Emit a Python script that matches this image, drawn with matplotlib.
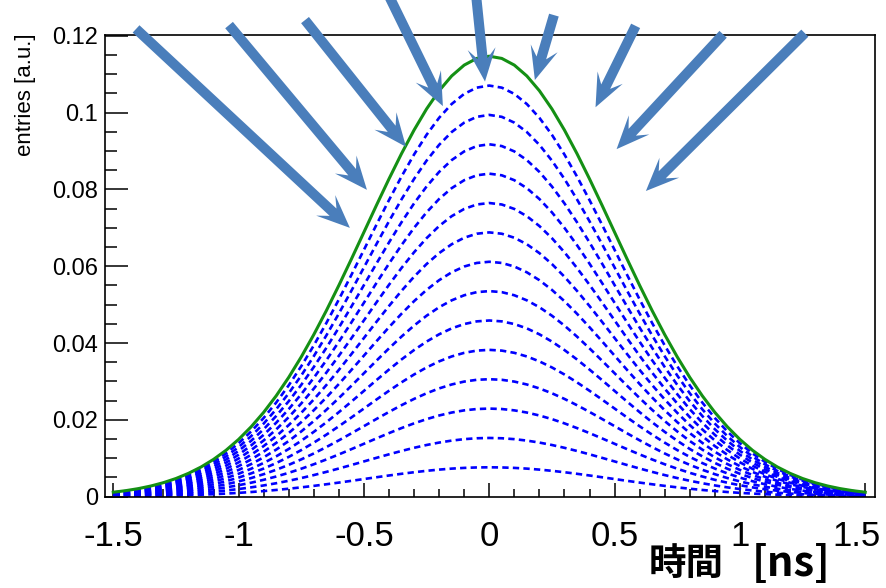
import numpy as np
import matplotlib.pyplot as plt
from matplotlib.patches import Polygon
from matplotlib.transforms import IdentityTransform, ScaledTranslation

# 緑のガウス曲線(全体)の値: t = -1.5 .. 1.5 を 0.05 刻みで読んだもの
t = np.linspace(-1.5, 1.5, 61)
half = [0.11470, 0.11412, 0.11238, 0.10955, 0.10571, 0.10097, 0.09546,
        0.08933, 0.08275, 0.07588, 0.06887, 0.06187, 0.05502, 0.04843,
        0.04220, 0.03640, 0.03107, 0.02626, 0.02196, 0.01819, 0.01491,
        0.01209, 0.00971, 0.00772, 0.00608, 0.00473, 0.00365, 0.00278,
        0.00210, 0.00157, 0.00116]
total = np.array(half[:0:-1] + half)

# 青の点線の山の高さ
peaks = [0.00765, 0.01529, 0.02294, 0.03059, 0.03823, 0.04588, 0.05353,
         0.06117, 0.06882, 0.07647, 0.08411, 0.09176, 0.09941, 0.10705]

# 矢印 (始点, 終点) データ座標
arrow_start = [(-1.409, 0.1218), (-1.038, 0.1228), (-0.735, 0.1241),
               (-0.404, 0.1309), (-0.053, 0.1309), (0.258, 0.1254),
               (0.584, 0.1226), (0.933, 0.1204), (1.259, 0.1207)]
arrow_tip = [(-0.556, 0.0700), (-0.488, 0.0799), (-0.332, 0.0911),
             (-0.185, 0.1017), (-0.017, 0.1081), (0.182, 0.1085),
             (0.424, 0.1014), (0.508, 0.0905), (0.625, 0.0796)]

xticks = [-1.5, -1, -0.5, 0, 0.5, 1, 1.5]
xlabels = ['-1.5', '-1', '-0.5', '0', '0.5', '1', '1.5']
yticks = [0, 0.02, 0.04, 0.06, 0.08, 0.1, 0.12]
ylabels = ['0', '0.02', '0.04', '0.06', '0.08', '0.1', '0.12']

plt.rcParams['font.family'] = ['Liberation Sans', 'DejaVu Sans']

fig = plt.figure(figsize=(8.86, 5.88), dpi=100)
ax = fig.add_axes([0.1185, 0.1553, 0.8691, 0.7844])

for p in peaks:
    ax.plot(t, total * p / total.max(), color='#0000ff', lw=1.9,
            dashes=(2.4, 1.6))
ax.plot(t, total, color='#149014', lw=2.2)

ax.set_xlim(-1.533, 1.539)
ax.set_ylim(0, 0.1201)

ax.set_xticks(xticks)
ax.set_xticklabels(xlabels, fontsize=25)
ax.set_xticks(np.arange(-1.5, 1.51, 0.1), minor=True)
ax.set_yticks(yticks)
ax.set_yticklabels(ylabels, fontsize=17)
ax.set_yticks(np.arange(0, 0.1201, 0.005), minor=True)

ax.tick_params(axis='x', which='major', direction='in', length=10, width=1.1, pad=17)
ax.tick_params(axis='x', which='minor', direction='in', length=5.8, width=1.1)
ax.tick_params(axis='y', which='major', direction='in', length=16.5, width=1.1, pad=5)
ax.tick_params(axis='y', which='minor', direction='in', length=8.6, width=1.1)
for sp in ax.spines.values():
    sp.set_linewidth(1.2)

# 右端のラベルは少し左へ
last = ax.get_xticklabels()[-1]
last.set_transform(last.get_transform() + ScaledTranslation(-9 / 100, 0, fig.dpi_scale_trans))

# 矢印(ステルス型)をピクセル単位で描く
L, W, Ln, w = 33, 14, 23, 5
for s, e in zip(arrow_start, arrow_tip):
    S = ax.transData.transform(s)
    T = ax.transData.transform(e)
    u = (S - T) / np.hypot(*(S - T))
    n = np.array([-u[1], u[0]])
    pts = [T, T + L * u + W * n, T + Ln * u + w * n, S + w * n,
           S - w * n, T + Ln * u - w * n, T + L * u - W * n]
    fig.patches.append(Polygon(pts, closed=True, transform=IdentityTransform(),
                               facecolor='#4a7ebb', edgecolor='none',
                               figure=fig, zorder=5))

fig.text(25 / 886, 1 - 33 / 588, 'entries [a.u.]', rotation=90,
         ha='center', va='top', fontsize=16)
fig.text(724 / 886, 1 - 583 / 588, '時間', ha='right', va='bottom',
         fontsize=27, fontweight='bold',
         family=['Noto Sans CJK JP', 'DejaVu Sans'])
fig.text(831 / 886, 1 - 585 / 588, '[ns]', ha='right', va='bottom',
         fontsize=30, fontweight='bold',
         family=['Noto Sans CJK JP', 'DejaVu Sans'])

fig.savefig('out.png', dpi=100)
